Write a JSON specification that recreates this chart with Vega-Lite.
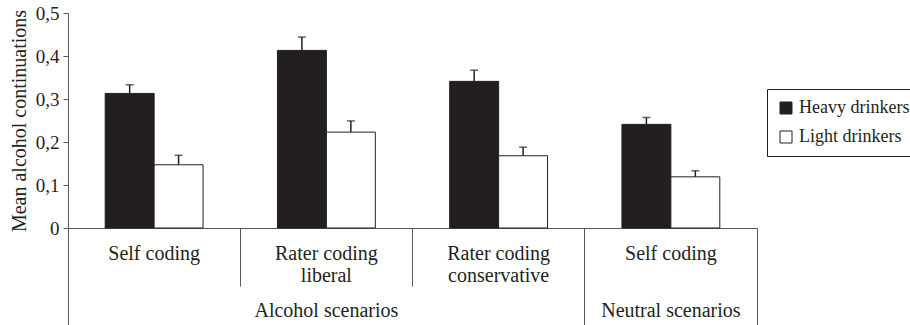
{
  "$schema": "https://vega.github.io/schema/vega-lite/v6.json",
  "width": 689,
  "height": 215,
  "autosize": {"type": "none"},
  "padding": {"left": 68, "top": 13, "right": 153, "bottom": 97},
  "background": "white",
  "config": {
    "font": "Liberation Serif",
    "view": {"stroke": null},
    "axis": {"grid": false, "labelColor": "#231f20", "titleColor": "#231f20", "domainColor": "#58595b", "tickColor": "#58595b", "labelFont": "Liberation Serif", "titleFont": "Liberation Serif", "titleFontWeight": "normal"},
    "axisY": {
      "title": "Mean alcohol continuations", "titleFontSize": 20, "titlePadding": 6,
      "values": [0, 0.1, 0.2, 0.3, 0.4, 0.5], "tickSize": 5, "labelPadding": 4, "labelFontSize": 19,
      "labelExpr": "datum.value == 0 ? '0' : replace(format(datum.value, '.1f'), '.', ',')"
    }
  },
  "data": {
    "values": [
      {"scenario": "Alcohol scenarios", "condition": "Self coding (alcohol)", "drinkers": "Heavy drinkers", "mean": 0.313, "upper": 0.333},
      {"scenario": "Alcohol scenarios", "condition": "Self coding (alcohol)", "drinkers": "Light drinkers", "mean": 0.147, "upper": 0.169},
      {"scenario": "Alcohol scenarios", "condition": "Rater coding liberal", "drinkers": "Heavy drinkers", "mean": 0.413, "upper": 0.444},
      {"scenario": "Alcohol scenarios", "condition": "Rater coding liberal", "drinkers": "Light drinkers", "mean": 0.223, "upper": 0.249},
      {"scenario": "Alcohol scenarios", "condition": "Rater coding conservative", "drinkers": "Heavy drinkers", "mean": 0.341, "upper": 0.367},
      {"scenario": "Alcohol scenarios", "condition": "Rater coding conservative", "drinkers": "Light drinkers", "mean": 0.168, "upper": 0.188},
      {"scenario": "Neutral scenarios", "condition": "Self coding (neutral)", "drinkers": "Heavy drinkers", "mean": 0.241, "upper": 0.257},
      {"scenario": "Neutral scenarios", "condition": "Self coding (neutral)", "drinkers": "Light drinkers", "mean": 0.119, "upper": 0.133}
    ]
  },
  "resolve": {"axis": {"x": "independent"}},
  "layer": [
    {
      "mark": {"type": "bar", "stroke": "#231f20", "strokeWidth": 1},
      "encoding": {
        "x": {
          "field": "condition", "type": "nominal", "sort": null,
          "scale": {"type": "band", "paddingInner": 0, "paddingOuter": 0},
          "axis": {
            "orient": "bottom", "title": null, "labelAngle": 0, "ticks": false, "domain": true,
            "labelPadding": 15, "labelBaseline": "top", "labelFontSize": 20, "labelLineHeight": 22,
            "labelExpr": "indexof(datum.value, 'Self') == 0 ? 'Self coding' : ['Rater coding', replace(datum.value, 'Rater coding ', '')]"
          }
        },
        "xOffset": {"field": "drinkers", "type": "nominal", "scale": {"paddingOuter": 0.76, "paddingInner": 0}},
        "y": {
          "field": "mean", "type": "quantitative",
          "scale": {"domain": [0, 0.5], "nice": false},
          "axis": {"title": "Mean alcohol continuations"}
        },
        "fill": {
          "field": "drinkers", "type": "nominal",
          "scale": {"domain": ["Heavy drinkers", "Light drinkers"], "range": ["#231f20", "#ffffff"]},
          "legend": {
            "title": null, "orient": "none", "legendX": 699, "legendY": 76,
            "strokeColor": "#231f20", "padding": 10, "rowPadding": 11,
            "symbolType": "square", "symbolSize": 144, "symbolStrokeColor": "#231f20", "symbolStrokeWidth": 1,
            "labelFont": "Liberation Serif", "labelFontSize": 18, "labelColor": "#231f20", "labelOffset": 4
          }
        }
      }
    },
    {
      "mark": {"type": "rule", "color": "#231f20", "strokeWidth": 1.5},
      "encoding": {
        "x": {
          "field": "condition", "type": "nominal", "sort": null,
          "axis": {
            "orient": "bottom", "title": null, "labelAngle": 0, "domain": false, "bandPosition": 0,
            "ticks": true, "tickSize": 97, "tickWidth": 1,
            "tickOpacity": {"condition": {"test": "datum.value === 'Self coding (alcohol)'", "value": 1}, "value": 0},
            "labelPadding": -25, "labelBaseline": "top", "labelFontSize": 20,
            "labelExpr": "datum.value == 'Rater coding liberal' ? 'Alcohol scenarios' : datum.value == 'Self coding (neutral)' ? 'Neutral scenarios' : ''"
          }
        },
        "xOffset": {"field": "drinkers", "type": "nominal"},
        "y": {"field": "mean", "type": "quantitative", "axis": {"title": "Mean alcohol continuations"}},
        "y2": {"field": "upper"}
      }
    },
    {
      "mark": {"type": "tick", "color": "#231f20", "size": 8, "thickness": 1.5},
      "encoding": {
        "x": {
          "field": "condition", "type": "nominal", "sort": null,
          "axis": {
            "orient": "bottom", "title": null, "labels": false, "domain": false, "bandPosition": 1,
            "ticks": true, "tickWidth": 1,
            "tickSize": {"condition": {"test": "datum.value === 'Rater coding conservative' || datum.value === 'Self coding (neutral)'", "value": 97}, "value": 58}
          }
        },
        "xOffset": {"field": "drinkers", "type": "nominal"},
        "y": {"field": "upper", "type": "quantitative", "axis": {"title": "Mean alcohol continuations"}}
      }
    }
  ]
}
